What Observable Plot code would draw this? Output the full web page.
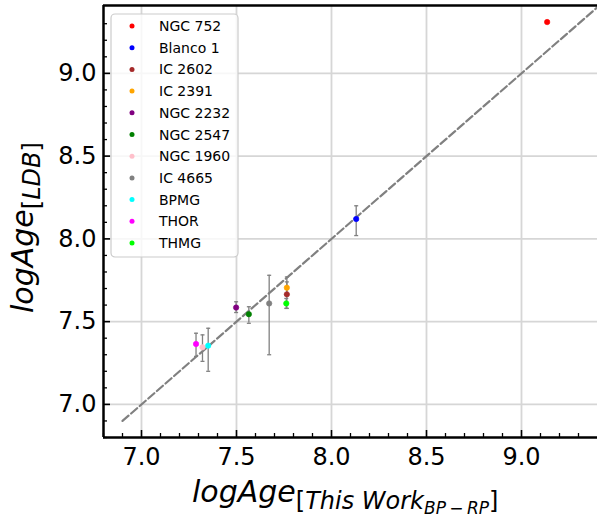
<!DOCTYPE html>
<html><head><meta charset="utf-8">
<script src="https://cdn.jsdelivr.net/npm/d3@7"></script>
<script src="https://cdn.jsdelivr.net/npm/@observablehq/plot@0.6"></script>
<style>body{margin:0;background:#fff} svg{font-family:"DejaVu Sans"}</style>
</head><body><div id="chart"></div>
<script>
const clusters = ["NGC 752","Blanco 1","IC 2602","IC 2391","NGC 2232","NGC 2547","NGC 1960","IC 4665","BPMG","THOR","THMG"];
const colors = ["red","blue","brown","orange","purple","green","pink","gray","cyan","magenta","lime"];
const ageThisWork = [9.135, 8.13, 7.765, 7.765, 7.498, 7.565, 7.321, 7.672, 7.351, 7.287, 7.762];
const ageLDB = [9.31, 8.12, 7.665, 7.705, 7.585, 7.545, 7.345, 7.61, 7.355, 7.365, 7.61];
const ldbLow = [9.31, 8.02, 7.58, 7.66, 7.555, 7.49, 7.26, 7.30, 7.20, 7.29, 7.58];
const ldbHigh = [9.31, 8.20, 7.77, 7.74, 7.62, 7.59, 7.42, 7.78, 7.46, 7.43, 7.64];
const majorTicks = [7.0, 7.5, 8.0, 8.5, 9.0];
const minorTicks = [6.8,6.9,7.1,7.2,7.3,7.4,7.6,7.7,7.8,7.9,8.1,8.2,8.3,8.4,8.6,8.7,8.8,8.9,9.1,9.2,9.3];
const oneToOne = [6.9, 9.4];

const data = clusters.map((name, i) => ({name, xt: ageThisWork[i], yl: ageLDB[i], lo: ldbLow[i], hi: ldbHigh[i]}));
const withErr = data.filter(d => d.hi > d.lo);
const cap = {draw(ctx, size) { const w = Math.sqrt(size / Math.PI); ctx.moveTo(-w, 0); ctx.lineTo(w, 0); }};
const fmt = d3.format(".1f");

const plot = Plot.plot({
  width: 597, height: 519,
  marginLeft: 103, marginRight: 0, marginTop: 5, marginBottom: 82,
  style: {fontFamily: "DejaVu Sans", background: "white", color: "black"},
  x: {domain: [6.8, 9.4]},
  y: {domain: [6.8, 9.41]},
  color: {domain: clusters, range: colors},
  marks: [
    Plot.gridX(majorTicks, {stroke: "#d6d6d6", strokeOpacity: 1, strokeWidth: 1.8}),
    Plot.gridY(majorTicks, {stroke: "#d6d6d6", strokeOpacity: 1, strokeWidth: 1.8}),
    Plot.line(oneToOne.map(v => ({v})), {x: "v", y: "v", stroke: "#808080", strokeWidth: 2.2, strokeDasharray: "8,3.4"}),
    Plot.ruleX(withErr, {x: "xt", y1: "lo", y2: "hi", stroke: "#808080", strokeWidth: 1.3}),
    Plot.dot(withErr, {x: "xt", y: "lo", symbol: cap, r: 2, stroke: "#808080", fill: "none", strokeWidth: 1.3}),
    Plot.dot(withErr, {x: "xt", y: "hi", symbol: cap, r: 2, stroke: "#808080", fill: "none", strokeWidth: 1.3}),
    Plot.dot(data, {x: "xt", y: "yl", fill: "name", stroke: "name", strokeWidth: 0.6, r: 2.7}),
    Plot.axisX({ticks: majorTicks, tickSize: 0, tickPadding: 10, tickFormat: fmt, fontSize: 24, label: null}),
    Plot.axisY({ticks: majorTicks, tickSize: 0, tickPadding: 7, tickFormat: fmt, fontSize: 24, label: null}),
    Plot.axisX(majorTicks, {tickSize: -7, strokeWidth: 1.6, text: null, label: null}),
    Plot.axisX(minorTicks, {tickSize: -4, strokeWidth: 1.3, text: null, label: null}),
    Plot.axisY(majorTicks, {tickSize: -7, strokeWidth: 1.6, text: null, label: null}),
    Plot.axisY(minorTicks, {tickSize: -4, strokeWidth: 1.3, text: null, label: null}),
    Plot.ruleX([6.8], {stroke: "black", strokeWidth: 2.5}),
    Plot.ruleY([6.8], {stroke: "black", strokeWidth: 2.5}),
    Plot.ruleY([9.41], {stroke: "black", strokeWidth: 2.5})
  ]
});
document.getElementById("chart").append(plot);

const svg = d3.select(plot);
// legend
const lg = svg.append("g").attr("font-family", "DejaVu Sans").attr("text-anchor", "start");
lg.append("rect").attr("x", 111).attr("y", 14).attr("width", 127).attr("height", 243).attr("rx", 4)
  .attr("fill", "white").attr("fill-opacity", 0.8).attr("stroke", "#cccccc").attr("stroke-width", 1.2);
clusters.forEach((name, i) => {
  const cy = 26 + i * 21.7;
  lg.append("circle").attr("cx", 132).attr("cy", cy).attr("r", 2.5).attr("fill", colors[i]);
  lg.append("text").attr("x", 159).attr("y", cy + 5).attr("font-size", 14).attr("fill", "black").text(name);
});
// axis labels (math-style)
const xl = svg.append("text").attr("x", 192).attr("y", 502).attr("text-anchor", "start").attr("font-size", 30).attr("font-style", "italic").attr("fill", "black");
xl.append("tspan").text("logAge");
xl.append("tspan").attr("dy", 7).attr("font-size", 24).attr("font-style", "normal").text("[");
xl.append("tspan").attr("font-size", 24).text("This Work");
xl.append("tspan").attr("dy", 5).attr("font-size", 17).text("BP\u2009\u2212\u2009RP");
xl.append("tspan").attr("dy", -5).attr("font-size", 24).attr("font-style", "normal").text("]");

const yl = svg.append("text").attr("transform", "translate(33,313) rotate(-90)").attr("text-anchor", "start").attr("font-size", 30).attr("font-style", "italic").attr("fill", "black");
yl.append("tspan").text("logAge");
yl.append("tspan").attr("dy", 7).attr("font-size", 24).attr("font-style", "normal").text("[");
yl.append("tspan").attr("font-size", 24).text("LDB");
yl.append("tspan").attr("font-size", 24).attr("font-style", "normal").text("]");
</script>
</body></html>
